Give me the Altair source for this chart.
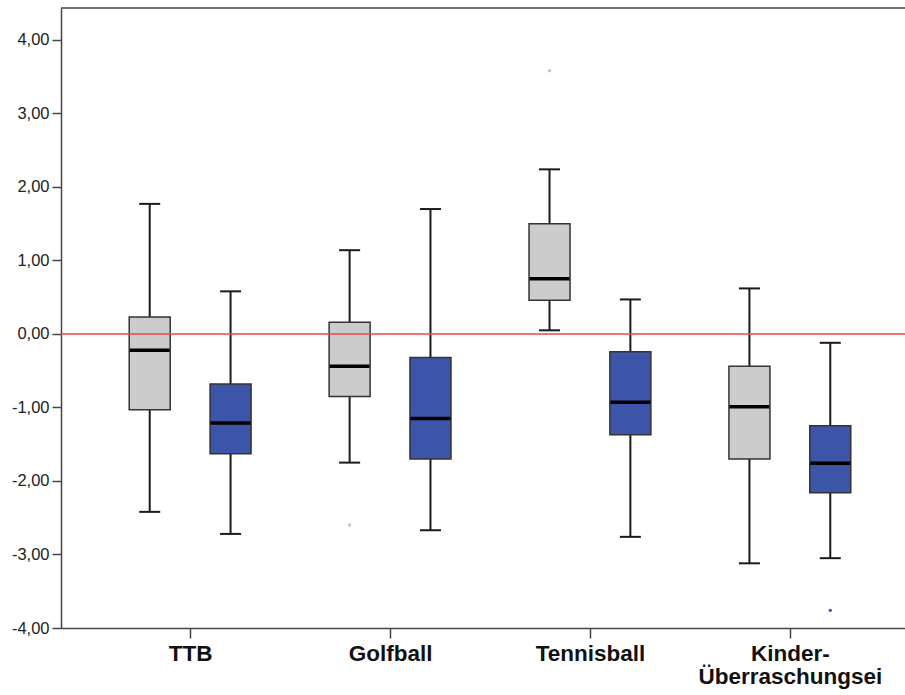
import json
import altair as alt
import pandas as pd

# ---- data ----
categories = ["TTB", "Golfball", "Tennisball", "Kinder-\nÜberraschungsei"]
groups = ["grau", "blau"]

# one entry per (category, group), grey first then blue
box_cat = [0, 0, 1, 1, 2, 2, 3, 3]
box_grp = ["grau", "blau"] * 4
lower_whisker = [-2.42, -2.72, -1.75, -2.67, 0.05, -2.76, -3.12, -3.05]
q1 = [-1.03, -1.63, -0.85, -1.70, 0.46, -1.37, -1.70, -2.16]
median = [-0.22, -1.21, -0.44, -1.15, 0.75, -0.93, -0.99, -1.76]
q3 = [0.23, -0.68, 0.16, -0.32, 1.50, -0.24, -0.44, -1.25]
upper_whisker = [1.77, 0.58, 1.14, 1.70, 2.24, 0.47, 0.62, -0.12]

outlier_cat = [1, 2, 3]
outlier_grp = ["grau", "grau", "blau"]
outlier_val = [-2.60, 3.58, -3.76]

y_ticks = [-4, -3, -2, -1, 0, 1, 2, 3, 4]
reference_value = [0]

# ---- tables ----
boxes = pd.DataFrame({
    "idx": box_cat, "grp": box_grp, "lw": lower_whisker, "q1": q1,
    "med": median, "q3": q3, "uw": upper_whisker,
})
outliers = pd.DataFrame({"idx": outlier_cat, "grp": outlier_grp, "val": outlier_val})

OFFSET = 0.2022
pos_expr = f"datum.idx + (datum.grp == 'blau' ? {OFFSET} : -{OFFSET})"

fill_scale = alt.Scale(domain=groups, range=["#cccccc", "#3c55a8"])
dot_scale = alt.Scale(domain=groups, range=["#c4c4c4", "#3c55a8"])

label_list = [c.split("\n") if "\n" in c else c for c in categories]
x_label_expr = json.dumps(label_list, ensure_ascii=False) + "[datum.value]"

x_enc = alt.X(
    "pos:Q",
    scale=alt.Scale(domain=[-0.621, 3.551], nice=False, zero=False),
    axis=alt.Axis(
        values=[0, 1, 2, 3], labelExpr=x_label_expr, title=None, grid=False,
        tickSize=10, tickColor="#444", tickWidth=1.5,
        domainColor="#444", domainWidth=1.5,
        labelFont="Liberation Sans", labelFontSize=22.5, labelFontWeight="bold",
        labelColor="#111", labelPadding=4, labelLineHeight=23, labelLimit=0,
        labelBaseline="top", labelFlush=False, labelOverlap=False,
    ),
)
y_scale = alt.Scale(domain=[-4, 4.435], nice=False, zero=False)
y_axis = alt.Axis(
    values=y_ticks,
    labelExpr="replace(replace(format(datum.value, '.2f'), '.', ','), '\u2212', '-')",
    title=None, grid=False, tickSize=9, tickColor="#444", tickWidth=1.5,
    domainColor="#444", domainWidth=1.5, labelFont="Liberation Sans",
    labelFontSize=16.5, labelColor="#222", labelPadding=3,
)

base = alt.Chart(boxes).transform_calculate(pos=pos_expr)

whiskers = base.mark_rule(color="#1a1a1a", strokeWidth=2).encode(
    x=x_enc, y=alt.Y("lw:Q", scale=y_scale, axis=y_axis), y2="uw:Q"
)
caps_hi = base.mark_tick(orient="horizontal", size=21, thickness=2, color="#1a1a1a", opacity=1).encode(
    x="pos:Q", y="uw:Q"
)
caps_lo = base.mark_tick(orient="horizontal", size=21, thickness=2, color="#1a1a1a", opacity=1).encode(
    x="pos:Q", y="lw:Q"
)
box = base.mark_bar(size=41, stroke="#333333", strokeWidth=1.5, opacity=1).encode(
    x="pos:Q", y="q1:Q", y2="q3:Q",
    fill=alt.Fill("grp:N", scale=fill_scale, legend=None),
)
med = base.mark_tick(orient="horizontal", size=40, thickness=3.5, color="#000000", opacity=1).encode(
    x="pos:Q", y="med:Q"
)
dots = alt.Chart(outliers).transform_calculate(pos=pos_expr).mark_circle(
    size=12, opacity=1
).encode(
    x="pos:Q", y="val:Q", color=alt.Color("grp:N", scale=dot_scale, legend=None)
)
ref = alt.Chart(pd.DataFrame({"v": reference_value})).mark_rule(
    color="#e8474c", strokeWidth=1.5
).encode(y="v:Q")
top_border = alt.Chart(pd.DataFrame({"v": reference_value})).mark_rule(
    color="#444", strokeWidth=1.5
).encode(y=alt.value(0), x=alt.value(0), x2=alt.value(844))

chart = alt.layer(
    whiskers, caps_hi, caps_lo, box, med, dots, ref, top_border
).resolve_scale(fill="independent", color="independent").properties(
    width=844, height=620,
    autosize=alt.AutoSizeParams(type="none"),
    padding={"left": 61, "top": 8, "right": 0, "bottom": 67},
    background="white",
).configure_view(stroke=None)

chart.save("out.html", embed_options={"renderer": "svg", "actions": False})
